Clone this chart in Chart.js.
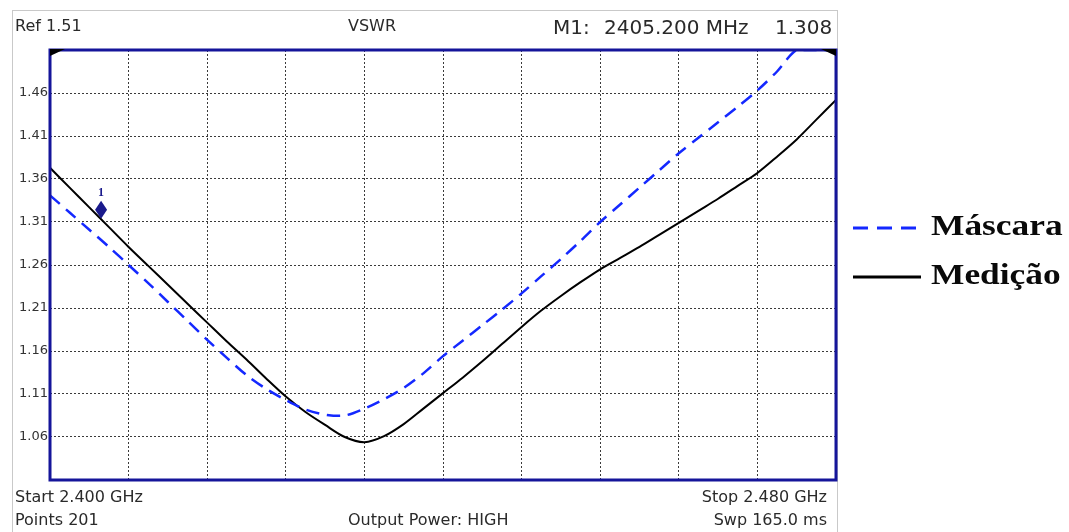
<!DOCTYPE html>
<html>
<head>
<meta charset="utf-8">
<script src="https://cdn.jsdelivr.net/npm/chart.js@4/dist/chart.umd.min.js"></script>
<style>
  html, body { margin: 0; padding: 0; background: #fff; }
  #wrap { position: relative; width: 1069px; height: 532px; overflow: hidden; font-family: "DejaVu Sans", sans-serif; color: #2a2a2a; }
  #frame { position: absolute; left: 12px; top: 10px; width: 824px; height: 530px; border: 1px solid #c9c9c9; }
  #chart { position: absolute; left: 0; top: 0; }
  .t { position: absolute; white-space: nowrap; line-height: 1; }
  .s { font-size: 16px; }
  .m { font-size: 20px; }
  .leg { position: absolute; font-family: "Liberation Serif", serif; font-weight: bold; font-size: 29px; color: #0a0a0a;
         transform: scaleX(1.22); transform-origin: left center; white-space: nowrap; line-height: 1; }
</style>
</head>
<body>
<div id="wrap">
  <div id="frame"></div>
  <canvas id="chart" width="1069" height="532"></canvas>

  <!-- header -->
  <div class="t s" style="left:15px; top:18px;">Ref 1.51</div>
  <div class="t s" style="left:348px; top:18px;">VSWR</div>
  <div class="t m" style="left:553px; top:17px;">M1:</div>
  <div class="t m" style="left:604px; top:17px;">2405.200 MHz</div>
  <div class="t m" style="left:775px; top:17px;">1.308</div>

  <!-- footer -->
  <div class="t s" style="left:15px; top:489px;">Start 2.400 GHz</div>
  <div class="t s" style="left:15px; top:512px;">Points 201</div>
  <div class="t s" style="left:348px; top:512px;">Output Power: HIGH</div>
  <div class="t s" style="right:242px; top:489px;">Stop 2.480 GHz</div>
  <div class="t s" style="right:242px; top:512px;">Swp 165.0 ms</div>

  <!-- legend -->
  <svg style="position:absolute; left:850px; top:215px;" width="80" height="75">
    <line x1="3" y1="13" x2="72" y2="13" stroke="#1428ff" stroke-width="3" stroke-dasharray="15 9"/>
    <line x1="3" y1="62" x2="71" y2="62" stroke="#000" stroke-width="3"/>
  </svg>
  <div class="leg" style="left:931px; top:211px;">Máscara</div>
  <div class="leg" style="left:931px; top:260px;">Medição</div>
</div>

<script>
// sweep frequencies (MHz)
const freqMHz = [2400, 2402, 2404, 2406, 2408, 2410, 2412, 2414, 2416, 2418,
                 2420, 2422, 2424, 2426, 2428, 2430, 2432, 2434, 2436, 2438,
                 2440, 2442, 2444, 2446, 2448, 2450, 2452, 2454, 2456, 2458,
                 2460, 2462, 2464, 2466, 2468, 2470, 2472, 2474, 2476, 2478, 2480];

// Máscara (dashed blue), clipped at the top of the display
const maskVswr = [1.341, 1.321, 1.301, 1.281, 1.260, 1.239, 1.217, 1.195, 1.173, 1.152,
                  1.132, 1.116, 1.103, 1.092, 1.086, 1.085, 1.093, 1.104, 1.117, 1.134,
                  1.154, 1.172, 1.190, 1.208, 1.227, 1.247, 1.267, 1.288, 1.310, 1.330,
                  1.350, 1.370, 1.390, 1.408, 1.426, 1.444, 1.463, 1.485, 1.510, 1.510, 1.510];

// Medição (solid black)
const measVswr = [1.373, 1.350, 1.327, 1.304, 1.281, 1.259, 1.237, 1.215, 1.193, 1.171,
                  1.150, 1.128, 1.107, 1.089, 1.074, 1.060, 1.054, 1.061, 1.075, 1.093,
                  1.111, 1.129, 1.148, 1.168, 1.188, 1.207, 1.224, 1.240, 1.255, 1.268,
                  1.281, 1.295, 1.309, 1.323, 1.337, 1.352, 1.367, 1.386, 1.406, 1.429, 1.452];

// grid / tick values
const xGrid = [2400, 2408, 2416, 2424, 2432, 2440, 2448, 2456, 2464, 2472, 2480];
const yGrid = [1.01, 1.06, 1.11, 1.16, 1.21, 1.26, 1.31, 1.36, 1.41, 1.46, 1.51];
const yTickLabels = ['', '1.06', '1.11', '1.16', '1.21', '1.26', '1.31', '1.36', '1.41', '1.46', ''];

// marker M1
const markerFreq = 2405.2;
const markerVswr = 1.308;

const FRAME = '#15159a';

const overlay = {
  id: 'overlay',
  afterDatasetsDraw(chart) {
    const { ctx, chartArea: a, scales } = chart;
    ctx.save();
    // plot frame
    ctx.strokeStyle = FRAME;
    ctx.lineWidth = 3;
    ctx.strokeRect(a.left, a.top, a.right - a.left, a.bottom - a.top);
    // small black corner wedges
    ctx.fillStyle = '#000';
    ctx.beginPath();
    ctx.moveTo(a.left, a.top - 1); ctx.lineTo(a.left + 15, a.top - 1); ctx.lineTo(a.left, a.top + 6);
    ctx.closePath(); ctx.fill();
    ctx.beginPath();
    ctx.moveTo(a.right, a.top - 1); ctx.lineTo(a.right - 15, a.top - 1); ctx.lineTo(a.right, a.top + 6);
    ctx.closePath(); ctx.fill();
    // marker diamond
    const mx = scales.x.getPixelForValue(markerFreq);
    const my = scales.y.getPixelForValue(markerVswr) - 5;
    ctx.fillStyle = '#1a1a8c';
    ctx.beginPath();
    ctx.moveTo(mx, my); ctx.lineTo(mx - 6, my - 9); ctx.lineTo(mx, my - 18); ctx.lineTo(mx + 6, my - 9);
    ctx.closePath(); ctx.fill();
    ctx.font = 'bold 12px "Liberation Serif", serif';
    ctx.textAlign = 'center';
    ctx.textBaseline = 'bottom';
    ctx.fillText('1', mx, my - 20);
    ctx.restore();
  }
};

const gridOpts = { color: '#3a3a3a', lineWidth: 1, drawTicks: false };

new Chart(document.getElementById('chart'), {
  type: 'line',
  data: {
    datasets: [
      {
        label: 'Máscara',
        data: freqMHz.map((f, i) => ({ x: f, y: maskVswr[i] })),
        borderColor: '#1428ff',
        borderWidth: 2.5,
        borderDash: [13, 8],
        pointRadius: 0,
        tension: 0.3,
        fill: false,
      },
      {
        label: 'Medição',
        data: freqMHz.map((f, i) => ({ x: f, y: measVswr[i] })),
        borderColor: '#000',
        borderWidth: 2,
        pointRadius: 0,
        tension: 0.3,
        fill: false,
      },
    ],
  },
  options: {
    responsive: false,
    animation: false,
    devicePixelRatio: 1,
    layout: { padding: { left: 12, right: 233, top: 50, bottom: 52 } },
    plugins: { legend: { display: false }, tooltip: { enabled: false } },
    scales: {
      x: {
        type: 'linear',
        min: 2400, max: 2480,
        afterBuildTicks: s => { s.ticks = xGrid.map(v => ({ value: v })); },
        afterFit: s => { s.height = 0; },
        grid: gridOpts,
        border: { display: false, dash: [2, 2] },
        ticks: { display: false },
      },
      y: {
        min: 1.01, max: 1.51,
        afterBuildTicks: s => { s.ticks = yGrid.map(v => ({ value: v })); },
        afterFit: s => { s.width = 38; },
        grid: gridOpts,
        border: { display: false, dash: [2, 2] },
        ticks: {
          padding: 2,
          color: '#333',
          font: { family: '"DejaVu Sans", sans-serif', size: 13 },
          callback: (v, i) => yTickLabels[i],
        },
      },
    },
  },
  plugins: [overlay],
});
</script>
</body>
</html>
